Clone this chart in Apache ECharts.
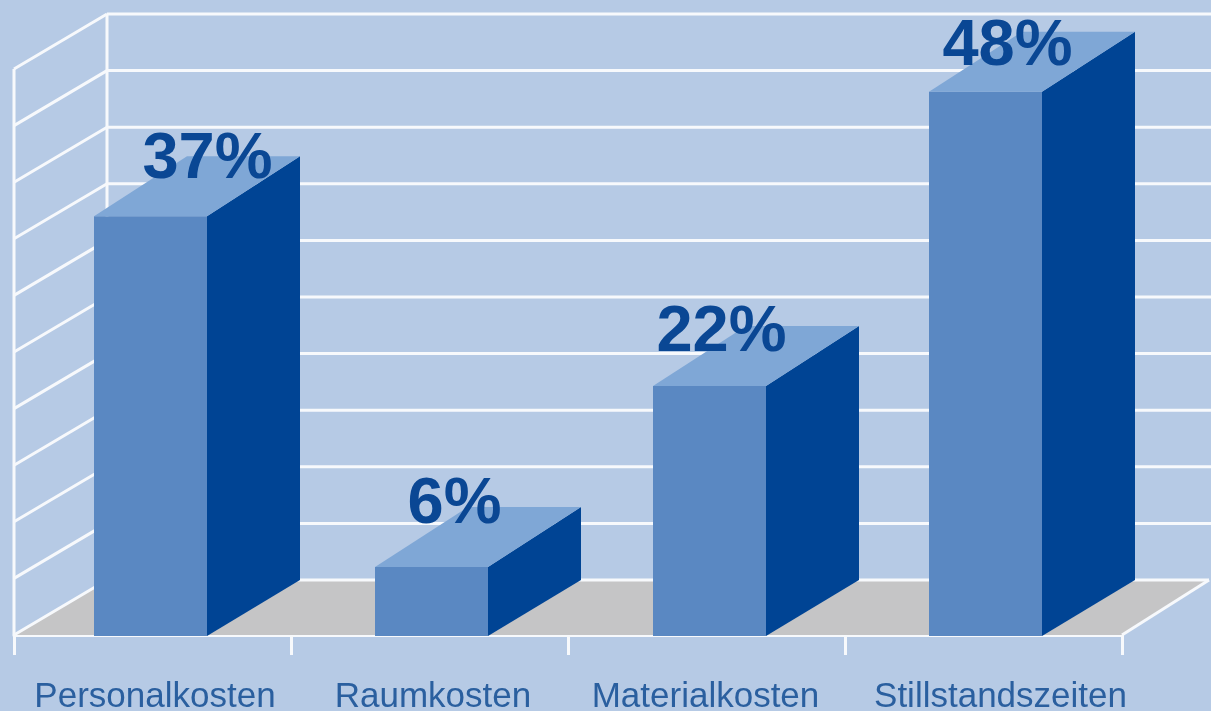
<!DOCTYPE html>
<html>
<head>
<meta charset="utf-8">
<style>html,body{margin:0;padding:0;background:#b6cae5}#c{width:1211px;height:711px}</style>
<script src="https://cdn.jsdelivr.net/npm/echarts@6/dist/echarts.min.js"></script>
</head>
<body>
<div id="c"></div>
<script>
const categories = ['Personalkosten', 'Raumkosten', 'Materialkosten', 'Stillstandszeiten'];
const values = [37, 6, 22, 48];
const wallTicks = [0, 5, 10, 15, 20, 25, 30, 35, 40, 45, 50];

const WHITE = '#f7f9fc', FRONT = '#5a88c2', TOP = '#7fa7d6', SIDE = '#004494', FLOOR = '#c5c5c6';
const TEXT_DARK = '#0a4794', TEXT_AXIS = '#2a5f9f';
const WALL_DX = 93, WALL_DY = 55;
const BAR_W = 113, BAR_DX = 93, BAR_DY_BASE = 56, BAR_DY_TOP = 60;
const barShift = [-2, 2, 3, 2];
const labelShift = [[57, -56], [23, -62], [12, -53], [22, -45]];
const labelPad = [[0, 0, 0, 5], [0, 0, 0, 7], [0, 2, 0, 0], [0, 0, 0, 34]];

function poly(points, fill, z2) {
  return { type: 'polygon', z2: z2 || 0, shape: { points }, style: { fill } };
}
function seg(x1, y1, x2, y2) {
  return { type: 'line', shape: { x1, y1, x2, y2 }, style: { stroke: WHITE, lineWidth: 3 } };
}

const option = {
  animation: false,
  backgroundColor: '#b6cae5',
  grid: { left: 14, right: 89, top: 69, bottom: 76, outerBoundsMode: 'none' },
  xAxis: {
    type: 'category',
    data: categories.map((c, i) => ({ value: c, textStyle: { padding: labelPad[i] } })),
    boundaryGap: true,
    axisLine: { show: true, lineStyle: { color: WHITE, width: 3 } },
    axisTick: { show: true, length: 20, alignWithLabel: false, lineStyle: { color: WHITE, width: 3 } },
    axisLabel: { show: true, interval: 0, margin: 45, fontSize: 35, color: TEXT_AXIS, fontFamily: 'Liberation Sans' }
  },
  yAxis: { type: 'value', min: 0, max: 50, interval: 5, show: false, splitLine: { show: false } },
  series: [
    {
      type: 'custom', z: 1, silent: true, data: [[0, 0]],
      renderItem(params, api) {
        const band = api.size([1, 0])[0];
        const base = api.coord([0, 0]);
        const l = base[0] - band / 2, y = base[1];
        const r = api.coord([categories.length - 1, 0])[0] + band / 2;
        return { type: 'group', children: [
          poly([[l, y], [l + WALL_DX, y - WALL_DY], [r + 87, y - WALL_DY], [r, y]], FLOOR),
          seg(l, y, l, api.coord([0, 50])[1]),
          seg(l + WALL_DX, y - WALL_DY, l + WALL_DX, api.coord([0, 50])[1] - WALL_DY),
          seg(r, y, r + 87, y - WALL_DY)
        ] };
      }
    },
    {
      type: 'custom', z: 2, silent: true,
      data: wallTicks.map(t => [0, t]),
      encode: { x: 0, y: 1 },
      renderItem(params, api) {
        const band = api.size([1, 0])[0];
        const p = api.coord([0, api.value(1)]);
        const l = p[0] - band / 2, y = p[1];
        const right = api.value(1) === 0 ? api.coord([categories.length - 1, 0])[0] + band / 2 + 87 : api.getWidth();
        return { type: 'group', children: [
          seg(l, y, l + WALL_DX, y - WALL_DY),
          seg(l + WALL_DX, y - WALL_DY, right, y - WALL_DY)
        ] };
      }
    },
    {
      type: 'custom', z: 3, silent: true,
      data: values.map((v, i) => [i, v]),
      encode: { x: 0, y: 1 },
      renderItem(params, api) {
        const i = api.value(0), v = api.value(1);
        const top = api.coord([i, v]), base = api.coord([i, 0]);
        const xl = top[0] - BAR_W / 2 + barShift[i], xr = xl + BAR_W;
        const yt = top[1], yb = base[1] + 1;
        return { type: 'group', children: [
          poly([[xl, yb], [xr, yb], [xr, yt], [xl, yt]], FRONT),
          poly([[xr, yb], [xr + BAR_DX, yb - BAR_DY_BASE], [xr + BAR_DX, yt - BAR_DY_TOP], [xr, yt]], SIDE),
          poly([[xl, yt], [xr, yt], [xr + BAR_DX, yt - BAR_DY_TOP], [xl + BAR_DX, yt - BAR_DY_TOP]], TOP),
          { type: 'text', z2: 10, style: {
              x: top[0] + barShift[i] + labelShift[i][0], y: yt + labelShift[i][1],
              text: v + '%', fill: TEXT_DARK, align: 'center', verticalAlign: 'middle',
              font: 'bold 65px "Liberation Sans"' } }
        ] };
      }
    }
  ]
};
const chart = echarts.init(document.getElementById('c'), null, { renderer: 'canvas' });
chart.setOption(option);
</script>
</body>
</html>
